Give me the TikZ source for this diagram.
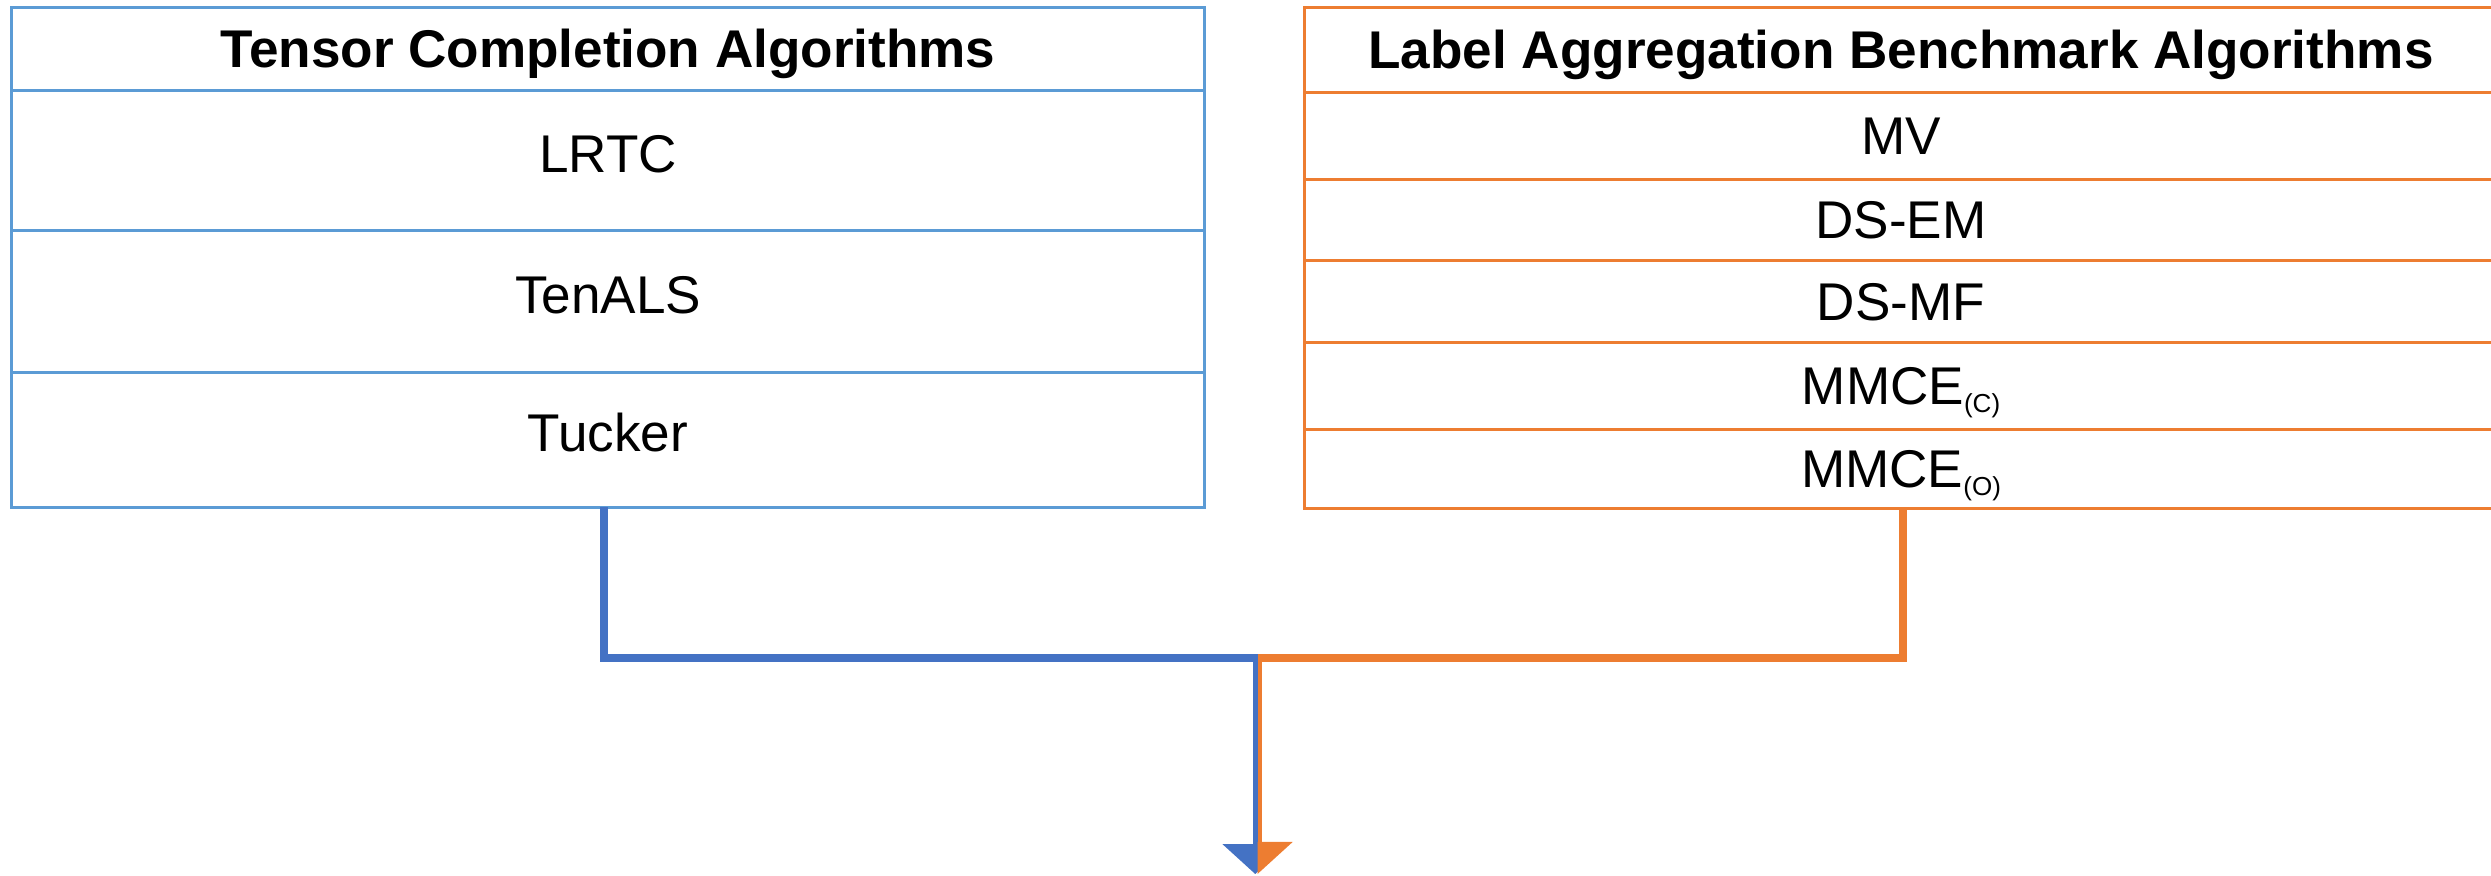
\documentclass[tikz,border=0pt]{standalone}
\usepackage{fontspec}
\setmainfont{Liberation Sans}
\usetikzlibrary{positioning, arrows.meta}
\definecolor{tcblue}{HTML}{5B9BD5}
\definecolor{laorange}{HTML}{ED7D31}
\definecolor{linkblue}{HTML}{4472C4}
\newcommand{\subtag}[1]{\raisebox{-0.15em}{\fontsize{7.4pt}{9pt}\selectfont #1}}
\tikzset{
	x=0.01cm, y=-0.01cm, % one unit is one pixel of the original figure
	every node/.style={outer sep=0pt, inner sep=0pt}, % rows share their borders
	cell/.style={draw, line width=0.85pt, minimum width=11.92cm, font=\fontsize{15.1pt}{18pt}\selectfont}, % one row of a table
	headcell/.style={cell, font=\fontsize{15.1pt}{18pt}\selectfont\bfseries, text height=10.8pt, text depth=0pt}, % title row
	tccell/.style={cell, tcblue, text=black, text height=13.6pt, text depth=6.8pt}, % left table
	tchead/.style={headcell, tcblue, text=black},
	lacell/.style={cell, laorange, text=black, text height=10.8pt, text depth=0pt}, % right table
	lahead/.style={headcell, laorange, text=black},
	link/.style={line width=2.3pt}, % thick connectors
	stem/.style={line width=1.28pt} % the last drop to the arrow
}

\begin{document}
\begin{tikzpicture}
	\useasboundingbox (0,0) rectangle (2491,875);
	\clip (0,0) rectangle (2491,875);

	\node[tchead, minimum height=0.82cm] (tc) at (608,49) {Tensor Completion Algorithms};
	\node[tccell, minimum height=1.40cm, below=0pt of tc] (lrtc) {LRTC};
	\node[tccell, minimum height=1.42cm, below=0pt of lrtc] (tenals) {TenALS};
	\node[tccell, minimum height=1.35cm, below=0pt of tenals] (tucker) {Tucker};

	\node[lahead, minimum height=0.84cm] (la) at (1901,50) {Label Aggregation Benchmark Algorithms};
	\node[lacell, minimum height=0.87cm, below=0pt of la] (mv) {MV};
	\node[lacell, minimum height=0.81cm, below=0pt of mv] (dsem) {DS-EM};
	\node[lacell, minimum height=0.82cm, below=0pt of dsem] (dsmf) {DS-MF};
	\node[lacell, minimum height=0.87cm, below=0pt of dsmf] (mmcec) {MMCE\subtag{(C)}};
	\node[lacell, minimum height=0.79cm, below=0pt of mmcec] (mmceo) {MMCE\subtag{(O)}};

	\coordinate (join) at (1257.5,658);
	\coordinate (bluedrop) at (1255.25,658);
	\coordinate (bluetip) at (1255.25,874);
	\coordinate (orangedrop) at (1259.75,658);
	\coordinate (orangetip) at (1259.75,874);

	\draw[link, linkblue] ([xshift=-0.04cm]tucker.south) |- (join);
	\draw[link, laorange] ([xshift=0.02cm]mmceo.south) |- (join);
	\draw[stem, linkblue, -{Triangle[width=0.65cm, length=0.3cm]}] (bluedrop) -- (bluetip);
	\draw[stem, laorange, -{Triangle[width=0.65cm, length=0.3cm, harpoon]}] (orangedrop) -- (orangetip);
\end{tikzpicture}
\end{document}
